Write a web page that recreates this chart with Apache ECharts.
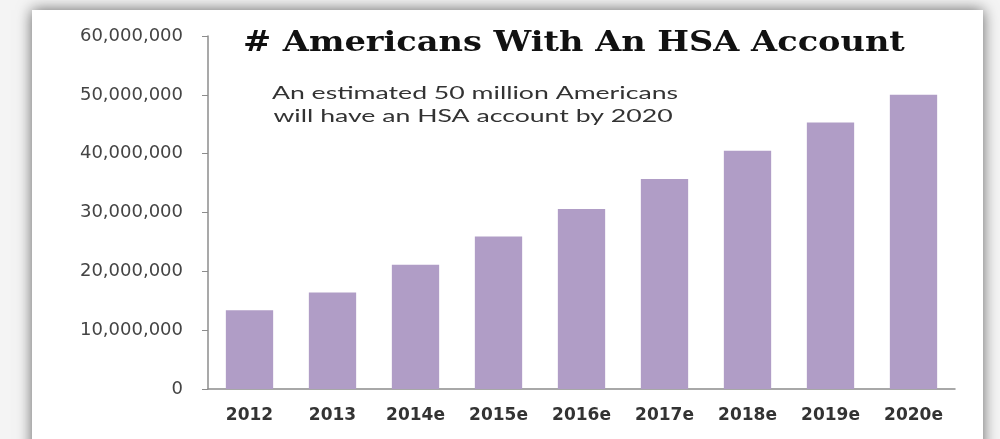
<!DOCTYPE html>
<html>
<head>
<meta charset="utf-8">
<script src="https://cdn.jsdelivr.net/npm/echarts@6/dist/echarts.min.js"></script>
<style>
html,body{margin:0;padding:0;background:#ffffff;}
#chart{width:1000px;height:439px;}
</style>
</head>
<body>
<div id="chart"></div>
<script>
const categories = ['2012','2013','2014e','2015e','2016e','2017e','2018e','2019e','2020e'];
const accounts = [13400000,16400000,21100000,25900000,30600000,35700000,40500000,45300000,50000000];
const titleText = '# Americans With An HSA Account';
const noteLines = ['An estimated 50 million Americans', 'will have an HSA account by 2020'];

const chart = echarts.init(document.getElementById('chart'));
chart.setOption({
  animation: false,
  backgroundColor: '#f4f4f4',
  graphic: [
    {
      type: 'rect', z: -10, silent: true,
      shape: { x: 32, y: 10, width: 951, height: 445 },
      style: { fill: '#ffffff', shadowBlur: 14, shadowColor: 'rgba(0,0,0,0.6)', shadowOffsetX: 0, shadowOffsetY: 0 }
    },
    {
      type: 'text', silent: true, x: 243, y: 44, scaleX: 1.2,
      style: { text: titleText, font: 'bold 28px "DejaVu Serif"', fill: '#111111', textAlign: 'left', textVerticalAlign: 'middle' }
    },
    {
      type: 'text', silent: true, x: 475, y: 93, scaleX: 1.48,
      style: { text: noteLines[0], font: '18px Lato', fill: '#333333', textAlign: 'center', textVerticalAlign: 'middle' }
    },
    {
      type: 'text', silent: true, x: 473, y: 116, scaleX: 1.48,
      style: { text: noteLines[1], font: '18px Lato', fill: '#333333', textAlign: 'center', textVerticalAlign: 'middle' }
    }
  ],
  grid: { left: 208, right: 45, top: 36, bottom: 50 },
  xAxis: {
    type: 'category',
    data: categories,
    axisLine: { lineStyle: { color: '#8c8c8c', width: 1.5 } },
    axisTick: { show: false },
    axisLabel: { margin: 18, fontFamily: 'DejaVu Sans', fontWeight: 'bold', fontSize: 17, color: '#333333' }
  },
  yAxis: {
    type: 'value',
    min: 0, max: 60000000, interval: 10000000,
    axisLine: { show: true, lineStyle: { color: '#8c8c8c', width: 1.5 } },
    axisTick: { show: true, length: 6, lineStyle: { color: '#8c8c8c' } },
    splitLine: { show: false },
    axisLabel: {
      margin: 25, fontFamily: 'DejaVu Sans', fontSize: 18, color: '#444444',
      formatter: v => v.toLocaleString('en-US')
    }
  },
  series: [{
    type: 'bar',
    data: accounts,
    barWidth: '57%',
    itemStyle: { color: '#b09dc6' }
  }]
});
</script>
</body>
</html>
